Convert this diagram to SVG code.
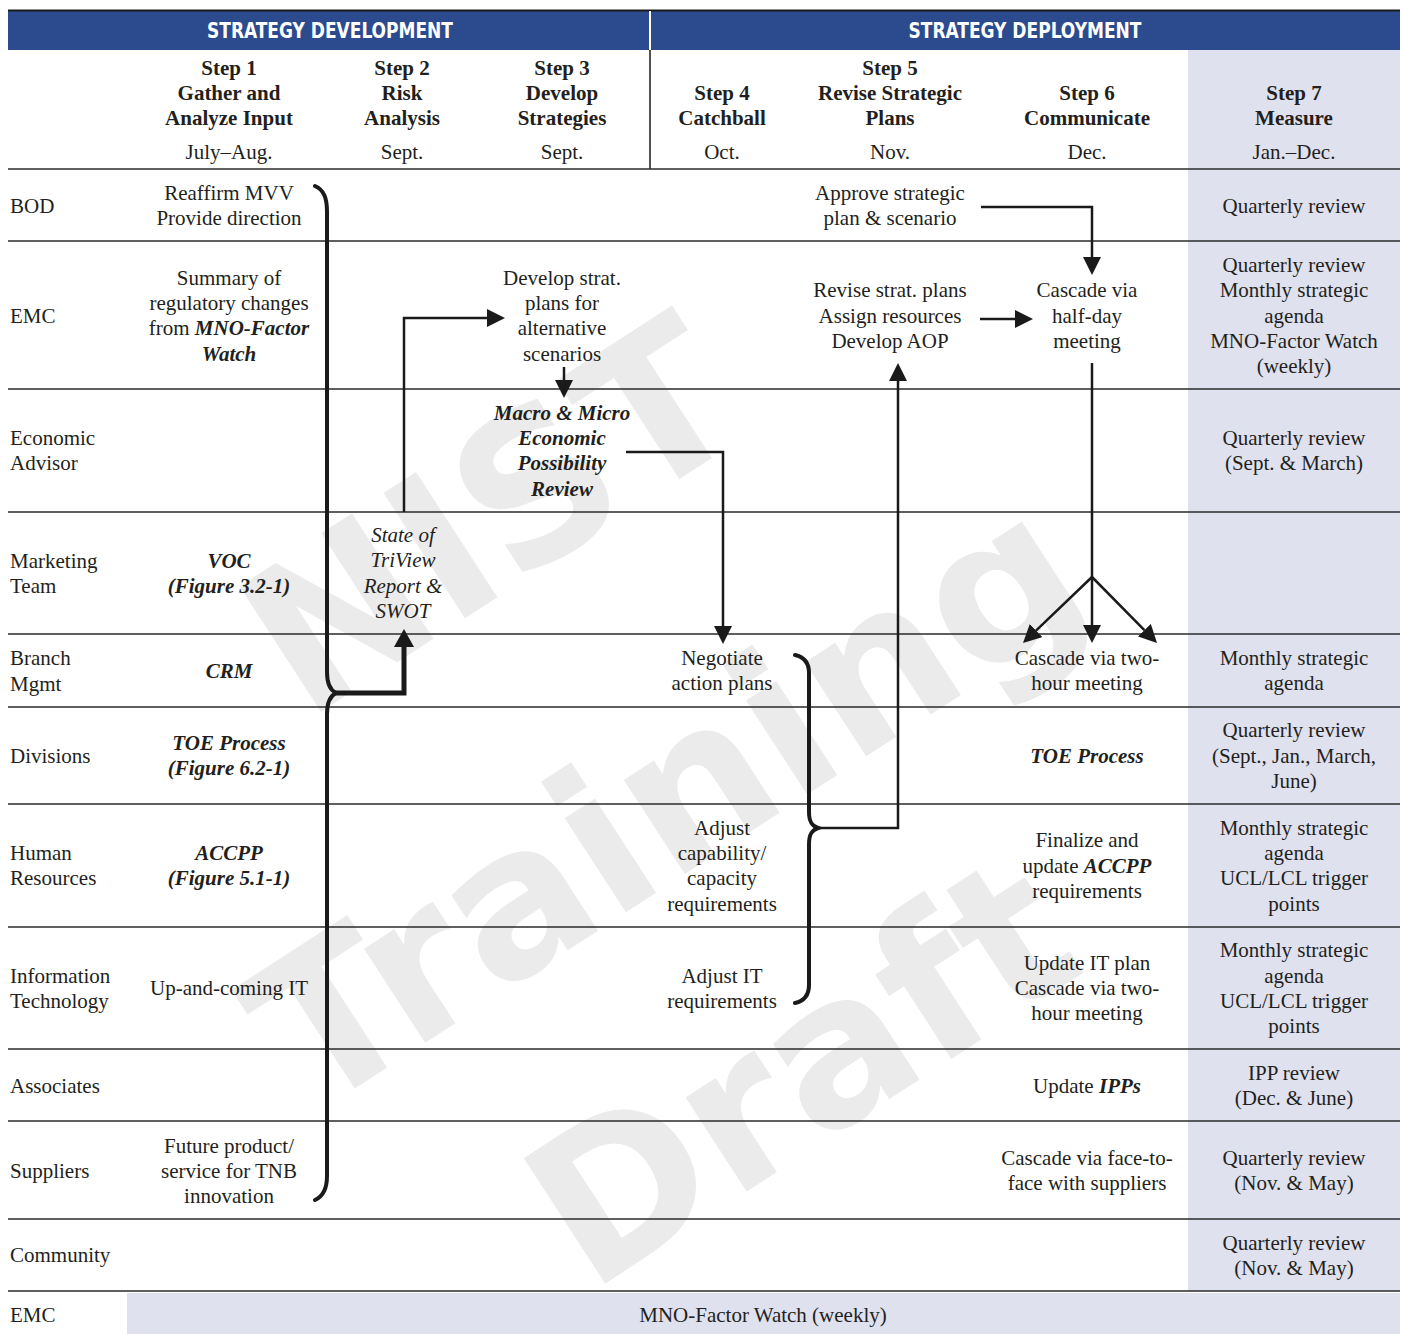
<svg xmlns="http://www.w3.org/2000/svg" width="1403" height="1334" viewBox="0 0 1403 1334">
<style>
text{font-family:"Liberation Serif","Times New Roman",serif;font-size:21px;fill:#231f20}
.c{text-anchor:middle}
.b{font-weight:bold}
.i{font-style:italic}
.bi{font-weight:bold;font-style:italic}
.hd{font-family:"Liberation Sans Narrow","DejaVu Sans Condensed","Liberation Sans",sans-serif;font-weight:bold;font-size:21px;fill:#ffffff;text-anchor:middle}
.wm{font-family:"DejaVu Sans","Liberation Sans",sans-serif;font-weight:bold;font-size:205px;fill:#ebebeb;text-anchor:middle}
.sep{stroke:#2b2b2b;stroke-width:1.5;fill:none}
.ln{stroke:#1a1a1a;stroke-width:2.5;fill:none}
.thk{stroke:#1a1a1a;stroke-width:5;fill:none}
.brace{stroke:#1a1a1a;stroke-width:4;fill:none;stroke-linecap:round}
</style>
<defs>
<marker id="ah" markerUnits="userSpaceOnUse" viewBox="0 0 18 18" markerWidth="18" markerHeight="18" refX="0" refY="9" orient="auto"><path d="M0,0 L18,9 L0,18 z" fill="#1a1a1a"/></marker>
<marker id="ahb" markerUnits="userSpaceOnUse" viewBox="0 0 18 20" markerWidth="18" markerHeight="20" refX="0" refY="10" orient="auto"><path d="M0,0 L18,10 L0,20 z" fill="#1a1a1a"/></marker>
</defs>
<rect width="1403" height="1334" fill="#ffffff"/>
<g id="shading">
<rect x="1188" y="50" width="212" height="1241" fill="#dfe1ee"/>
<rect x="127" y="1293" width="1273" height="41" fill="#dfe1ee"/>
</g>
<g id="watermark">
<g transform="translate(490,515) rotate(-33)"><text class="wm" x="0" y="73">NIST</text></g>
<g transform="translate(665,800) rotate(-33)"><text class="wm" x="0" y="73">Training</text></g>
<g transform="translate(800,1070) rotate(-33)"><text class="wm" x="0" y="73">Draft</text></g>
</g>
<g id="header">
<rect x="8" y="11" width="1392" height="39" fill="#2b4b8e"/>
<line x1="8" y1="10.5" x2="1400" y2="10.5" stroke="#1a1a1a" stroke-width="2"/>
<line x1="650" y1="11" x2="650" y2="50" stroke="#ffffff" stroke-width="2"/>
<line x1="650" y1="50" x2="650" y2="169" stroke="#1a1a1a" stroke-width="1.5"/>
<text class="hd" x="330" y="38" textLength="246" lengthAdjust="spacingAndGlyphs">STRATEGY DEVELOPMENT</text>
<text class="hd" x="1025" y="38" textLength="233" lengthAdjust="spacingAndGlyphs">STRATEGY DEPLOYMENT</text>
<g id="step1"><text class="c b" x="229" y="75">Step 1</text><text class="c b" x="229" y="100">Gather and</text><text class="c b" x="229" y="125">Analyze Input</text><text class="c" x="229" y="159">July–Aug.</text></g>
<g id="step2"><text class="c b" x="402" y="75">Step 2</text><text class="c b" x="402" y="100">Risk</text><text class="c b" x="402" y="125">Analysis</text><text class="c" x="402" y="159">Sept.</text></g>
<g id="step3"><text class="c b" x="562" y="75">Step 3</text><text class="c b" x="562" y="100">Develop</text><text class="c b" x="562" y="125">Strategies</text><text class="c" x="562" y="159">Sept.</text></g>
<g id="step4"><text class="c b" x="722" y="100">Step 4</text><text class="c b" x="722" y="125">Catchball</text><text class="c" x="722" y="159">Oct.</text></g>
<g id="step5"><text class="c b" x="890" y="75">Step 5</text><text class="c b" x="890" y="100">Revise Strategic</text><text class="c b" x="890" y="125">Plans</text><text class="c" x="890" y="159">Nov.</text></g>
<g id="step6"><text class="c b" x="1087" y="100">Step 6</text><text class="c b" x="1087" y="125">Communicate</text><text class="c" x="1087" y="159">Dec.</text></g>
<g id="step7"><text class="c b" x="1294" y="100">Step 7</text><text class="c b" x="1294" y="125">Measure</text><text class="c" x="1294" y="159">Jan.–Dec.</text></g>
</g>
<g id="rows">
<path class="sep" d="M8,169 H1400" stroke-width="2"/>
<path class="sep" d="M8,241 H1400 M8,389 H1400 M8,512 H1400 M8,634 H1400 M8,707 H1400 M8,804 H1400 M8,927 H1400 M8,1049 H1400 M8,1121 H1400 M8,1219 H1400 M8,1291 H1400"/>
</g>
<g id="labels">
<text x="10" y="213">BOD</text>
<text x="10" y="323">EMC</text>
<text x="10" y="445">Economic</text><text x="10" y="470">Advisor</text>
<text x="10" y="568">Marketing</text><text x="10" y="593">Team</text>
<text x="10" y="665">Branch</text><text x="10" y="691">Mgmt</text>
<text x="10" y="763">Divisions</text>
<text x="10" y="860">Human</text><text x="10" y="885">Resources</text>
<text x="10" y="983">Information</text><text x="10" y="1008">Technology</text>
<text x="10" y="1093">Associates</text>
<text x="10" y="1178">Suppliers</text>
<text x="10" y="1262">Community</text>
<text x="10" y="1322">EMC</text>
</g>
<g id="n-bod-1"><text class="c" x="229" y="200">Reaffirm MVV</text><text class="c" x="229" y="225">Provide direction</text></g>
<g id="n-bod-5"><text class="c" x="890" y="200">Approve strategic</text><text class="c" x="890" y="225">plan &amp; scenario</text></g>
<g id="n-bod-7"><text class="c" x="1294" y="213">Quarterly review</text></g>
<g id="n-emc-1"><text class="c" x="229" y="285">Summary of</text><text class="c" x="229" y="310">regulatory changes</text><text class="c" x="229" y="335">from <tspan class="bi">MNO-Factor</tspan></text><text class="c bi" x="229" y="361">Watch</text></g>
<g id="n-emc-3"><text class="c" x="562" y="285">Develop strat.</text><text class="c" x="562" y="310">plans for</text><text class="c" x="562" y="335">alternative</text><text class="c" x="562" y="361">scenarios</text></g>
<g id="n-emc-5"><text class="c" x="890" y="297">Revise strat. plans</text><text class="c" x="890" y="323">Assign resources</text><text class="c" x="890" y="348">Develop AOP</text></g>
<g id="n-emc-6"><text class="c" x="1087" y="297">Cascade via</text><text class="c" x="1087" y="323">half-day</text><text class="c" x="1087" y="348">meeting</text></g>
<g id="n-emc-7"><text class="c" x="1294" y="272">Quarterly review</text><text class="c" x="1294" y="297">Monthly strategic</text><text class="c" x="1294" y="323">agenda</text><text class="c" x="1294" y="348">MNO-Factor Watch</text><text class="c" x="1294" y="373">(weekly)</text></g>
<g id="n-eco-3"><text class="c bi" x="562" y="420">Macro &amp; Micro</text><text class="c bi" x="562" y="445">Economic</text><text class="c bi" x="562" y="470">Possibility</text><text class="c bi" x="562" y="496">Review</text></g>
<g id="n-eco-7"><text class="c" x="1294" y="445">Quarterly review</text><text class="c" x="1294" y="470">(Sept. &amp; March)</text></g>
<g id="n-mkt-1"><text class="c bi" x="229" y="568">VOC</text><text class="c bi" x="229" y="593">(Figure 3.2-1)</text></g>
<g id="n-mkt-2"><text class="c i" x="403" y="542">State of</text><text class="c i" x="403" y="567">TriView</text><text class="c i" x="403" y="593">Report &amp;</text><text class="c i" x="403" y="618">SWOT</text></g>
<g id="n-br-1"><text class="c bi" x="229" y="678">CRM</text></g>
<g id="n-br-4"><text class="c" x="722" y="665">Negotiate</text><text class="c" x="722" y="690">action plans</text></g>
<g id="n-br-6"><text class="c" x="1087" y="665">Cascade via two-</text><text class="c" x="1087" y="690">hour meeting</text></g>
<g id="n-br-7"><text class="c" x="1294" y="665">Monthly strategic</text><text class="c" x="1294" y="690">agenda</text></g>
<g id="n-div-1"><text class="c bi" x="229" y="750">TOE Process</text><text class="c bi" x="229" y="775">(Figure 6.2-1)</text></g>
<g id="n-div-6"><text class="c bi" x="1087" y="763">TOE Process</text></g>
<g id="n-div-7"><text class="c" x="1294" y="737">Quarterly review</text><text class="c" x="1294" y="763">(Sept., Jan., March,</text><text class="c" x="1294" y="788">June)</text></g>
<g id="n-hr-1"><text class="c bi" x="229" y="860">ACCPP</text><text class="c bi" x="229" y="885">(Figure 5.1-1)</text></g>
<g id="n-hr-4"><text class="c" x="722" y="835">Adjust</text><text class="c" x="722" y="860">capability/</text><text class="c" x="722" y="885">capacity</text><text class="c" x="722" y="911">requirements</text></g>
<g id="n-hr-6"><text class="c" x="1087" y="847">Finalize and</text><text class="c" x="1087" y="873">update <tspan class="bi">ACCPP</tspan></text><text class="c" x="1087" y="898">requirements</text></g>
<g id="n-hr-7"><text class="c" x="1294" y="835">Monthly strategic</text><text class="c" x="1294" y="860">agenda</text><text class="c" x="1294" y="885">UCL/LCL trigger</text><text class="c" x="1294" y="911">points</text></g>
<g id="n-it-1"><text class="c" x="229" y="995">Up-and-coming IT</text></g>
<g id="n-it-4"><text class="c" x="722" y="983">Adjust IT</text><text class="c" x="722" y="1008">requirements</text></g>
<g id="n-it-6"><text class="c" x="1087" y="970">Update IT plan</text><text class="c" x="1087" y="995">Cascade via two-</text><text class="c" x="1087" y="1020">hour meeting</text></g>
<g id="n-it-7"><text class="c" x="1294" y="957">Monthly strategic</text><text class="c" x="1294" y="983">agenda</text><text class="c" x="1294" y="1008">UCL/LCL trigger</text><text class="c" x="1294" y="1033">points</text></g>
<g id="n-as-6"><text class="c" x="1087" y="1093">Update <tspan class="bi">IPPs</tspan></text></g>
<g id="n-as-7"><text class="c" x="1294" y="1080">IPP review</text><text class="c" x="1294" y="1105">(Dec. &amp; June)</text></g>
<g id="n-su-1"><text class="c" x="229" y="1153">Future product/</text><text class="c" x="229" y="1178">service for TNB</text><text class="c" x="229" y="1203">innovation</text></g>
<g id="n-su-6"><text class="c" x="1087" y="1165">Cascade via face-to-</text><text class="c" x="1087" y="1190">face with suppliers</text></g>
<g id="n-su-7"><text class="c" x="1294" y="1165">Quarterly review</text><text class="c" x="1294" y="1190">(Nov. &amp; May)</text></g>
<g id="n-co-7"><text class="c" x="1294" y="1250">Quarterly review</text><text class="c" x="1294" y="1275">(Nov. &amp; May)</text></g>
<g id="n-emc2"><text class="c" x="763" y="1322">MNO-Factor Watch (weekly)</text></g>
<g id="connectors">
<path class="brace" d="M315,186 C324,190 327,198 327,212 L327,672 C327,684 330,690 336,693 C330,696 327,702 327,714 L327,1176 C327,1188 324,1196 315,1200"/>
<path class="thk" d="M334,693 H404 V647" marker-end="url(#ahb)"/>
<path class="ln" d="M404,512 V318 H487" marker-end="url(#ah)"/>
<path class="ln" d="M564,367 V380" marker-end="url(#ah)"/>
<path class="ln" d="M626,452 H723 V626" marker-end="url(#ah)"/>
<path class="brace" stroke-width="3.5" d="M795,655 C804,657 809,663 809,673 L809,812 C809,822 812,826 818,828 C812,830 809,834 809,844 L809,985 C809,995 804,1001 795,1003"/>
<path class="ln" d="M818,828 H898 V381" marker-end="url(#ah)"/>
<path class="ln" d="M981,207 H1092 V257" marker-end="url(#ah)"/>
<path class="ln" d="M980,319 H1015" marker-end="url(#ah)"/>
<path class="ln" d="M1092,363 V625" marker-end="url(#ah)"/>
<path class="ln" d="M1092,577 L1036,630.6" marker-end="url(#ah)"/>
<path class="ln" d="M1092,577 L1144.4,630.2" marker-end="url(#ah)"/>
</g>
</svg>
